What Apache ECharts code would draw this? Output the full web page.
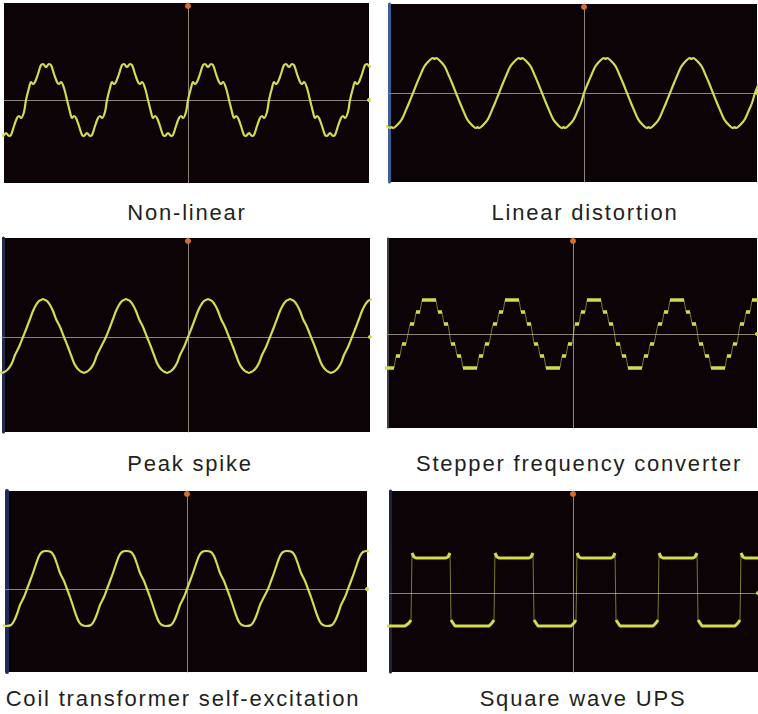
<!DOCTYPE html>
<html><head><meta charset="utf-8">
<script src="https://cdn.jsdelivr.net/npm/echarts/dist/echarts.min.js"></script>
<style>html,body{margin:0;padding:0;background:#fff}#c{width:758px;height:714px}#c svg text{letter-spacing:1.8px}</style>
</head><body><div id="c"></div>
<script>
// ---- DATA (x: px offset from trigger line, y: px offset from ground line) ----
const titles = ['Non-linear','Linear distortion','Peak spike','Stepper frequency converter','Coil transformer self-excitation','Square wave UPS'];

const wave1 = [
[-187,-35],[-185,-36],[-182,-33],[-179,-36],[-177,-35],[-174,-26],[-171,-18],[-169,-16],[-167,-18],[-164,-12],
[-162,0],[-159,12],[-157,18],[-155,16],[-153,18],[-150,26],[-147,35],[-145,36],[-142,33],[-139,36],[-137,35],[-134,26],[-131,18],[-129,16],[-127,18],[-124,12],[-121,0],[-118,-12],[-116,-18],[-114,-16],[-112,-18],[-109,-26],[-106,-35],[-104,-36],[-101,-33],[-98,-36],[-96,-35],[-93,-26],[-90,-18],[-88,-16],[-86,-18],[-83,-12],
[-81,0],[-78,12],[-76,18],[-74,16],[-72,18],[-69,26],[-66,35],[-64,36],[-61,33],[-58,36],[-56,35],[-53,26],[-50,18],[-48,16],[-46,18],[-43,12],[-40,0],[-37,-12],[-35,-18],[-33,-16],[-31,-18],[-28,-26],[-25,-35],[-23,-36],[-20,-33],[-17,-36],[-15,-35],[-12,-26],[-9,-18],[-7,-16],[-5,-18],[-2,-12],
[0,0],[3,12],[5,18],[7,16],[9,18],[12,26],[15,35],[17,36],[20,33],[23,36],[25,35],[28,26],[31,18],[33,16],[35,18],[38,12],[41,0],[44,-12],[46,-18],[48,-16],[50,-18],[53,-26],[56,-35],[58,-36],[61,-33],[64,-36],[66,-35],[69,-26],[72,-18],[74,-16],[76,-18],[79,-12],
[81,0],[84,12],[86,18],[88,16],[90,18],[93,26],[96,35],[98,36],[101,33],[104,36],[106,35],[109,26],[112,18],[114,16],[116,18],[119,12],[122,0],[125,-12],[127,-18],[129,-16],[131,-18],[134,-26],[137,-35],[139,-36],[142,-33],[145,-36],[147,-35],[150,-26],[153,-18],[155,-16],[157,-18],[160,-12],
[162,0],[165,12],[167,18],[169,16],[171,18],[174,26],[177,35],[179,36],[182,33],[185,36]
];

const wave2 = [
[-200,-32],[-196,-34],[-194,-35],[-192.5,-34],[-191,-35],[-189,-34],[-185,-30],[-182,-26],[-178,-17],[-175,-10],
[-171,0],[-167,10],[-164,17],[-160,26],[-157,30],[-153,34],[-151,35],[-149.5,34],[-148,35],[-146,34],[-142,30],[-139,26],[-135,17],[-132,10],[-128,0],[-124,-10],[-121,-17],[-117,-26],[-114,-30],[-110,-34],[-108,-35],[-106.5,-34],[-105,-35],[-103,-34],[-99,-30],[-96,-26],[-92,-17],[-89,-10],
[-85,0],[-81,10],[-78,17],[-74,26],[-71,30],[-67,34],[-65,35],[-63.5,34],[-62,35],[-60,34],[-56,30],[-53,26],[-49,17],[-46,10],[-42,0],[-38,-10],[-35,-17],[-31,-26],[-28,-30],[-24,-34],[-22,-35],[-20.5,-34],[-19,-35],[-17,-34],[-13,-30],[-10,-26],[-6,-17],[-3,-10],
[0,0],[4,10],[7,17],[11,26],[14,30],[18,34],[20,35],[21.5,34],[23,35],[25,34],[29,30],[32,26],[36,17],[39,10],[43,0],[47,-10],[50,-17],[54,-26],[57,-30],[61,-34],[63,-35],[64.5,-34],[66,-35],[68,-34],[72,-30],[75,-26],[79,-17],[82,-10],
[86,0],[90,10],[93,17],[97,26],[100,30],[104,34],[106,35],[107.5,34],[109,35],[111,34],[115,30],[118,26],[122,17],[125,10],[129,0],[133,-10],[136,-17],[140,-26],[143,-30],[147,-34],[149,-35],[150.5,-34],[152,-35],[154,-34],[158,-30],[161,-26],[165,-17],[168,-10],
[171,0],[175,10],[178,17]
];

const wave3 = [
[-190,-34],[-188,-35],[-186,-36],[-184,-35],[-182,-34],[-179,-31],[-176,-26],[-173,-18],[-169,-10],
[-165,0],[-161,10],[-158,18],[-155,26],[-152,32],[-149,36],[-147,37],[-145,38],[-143,37],[-141,36],[-138,32],[-135,26],[-132,18],[-128,10],[-124,0],[-120,-10],[-117,-18],[-114,-26],[-111,-31],[-108,-34],[-106,-35],[-104,-36],[-102,-35],[-100,-34],[-97,-31],[-94,-26],[-91,-18],[-87,-10],
[-82,0],[-78,10],[-75,18],[-72,26],[-69,32],[-66,36],[-64,37],[-62,38],[-60,37],[-58,36],[-55,32],[-52,26],[-49,18],[-45,10],[-41,0],[-37,-10],[-34,-18],[-31,-26],[-28,-31],[-25,-34],[-23,-35],[-21,-36],[-19,-35],[-17,-34],[-14,-31],[-11,-26],[-8,-18],[-4,-10],
[0,0],[4,10],[7,18],[10,26],[13,32],[16,36],[18,37],[20,38],[22,37],[24,36],[27,32],[30,26],[33,18],[37,10],[41,0],[45,-10],[48,-18],[51,-26],[54,-31],[57,-34],[59,-35],[61,-36],[63,-35],[65,-34],[68,-31],[71,-26],[74,-18],[78,-10],
[82,0],[86,10],[89,18],[92,26],[95,32],[98,36],[100,37],[102,38],[104,37],[106,36],[109,32],[112,26],[115,18],[119,10],[123,0],[127,-10],[130,-18],[133,-26],[136,-31],[139,-34],[141,-35],[143,-36],[145,-35],[147,-34],[150,-31],[153,-26],[156,-18],[160,-10],
[164,0],[168,10],[171,18],[174,26],[177,32],[180,36],[182,37],[184,38]
];

// stepper plateaus: [xStart, xEnd, level]
const steps4 = [
[-195,-179,-34],[-177,-173,-22],[-171,-167,-10],
[-163,-159,10],[-157,-153,22],[-151,-137,34],[-135,-131,22],[-129,-125,10],[-122,-118,-10],[-116,-112,-22],[-110,-96,-34],[-94,-90,-22],[-88,-84,-10],
[-80,-76,10],[-74,-70,22],[-68,-54,34],[-52,-48,22],[-46,-42,10],[-39,-35,-10],[-33,-29,-22],[-27,-13,-34],[-11,-7,-22],[-5,-1,-10],
[2,6,10],[8,12,22],[14,28,34],[30,34,22],[36,40,10],[43,47,-10],[49,53,-22],[55,69,-34],[71,75,-22],[77,81,-10],
[85,89,10],[91,95,22],[97,111,34],[113,117,22],[119,123,10],[126,130,-10],[132,136,-22],[138,152,-34],[154,158,-22],[160,164,-10],
[167,171,10],[173,177,22],[179,193,34]
];

const wave5 = [
[-185,-36],[-181,-37],[-176,-36],[-173,-32],[-170,-25],[-167,-16],[-163,-8],
[-160,0],[-157,8],[-154,16],[-151,25],[-148,33],[-145,37],[-141,38],[-136,37],[-133,33],[-130,25],[-127,16],[-123,8],[-120,0],[-117,-8],[-114,-17],[-111,-26],[-108,-33],[-105,-36],[-101,-37],[-96,-36],[-93,-32],[-90,-25],[-87,-16],[-83,-8],
[-80,0],[-77,8],[-74,16],[-71,25],[-68,33],[-65,37],[-61,38],[-56,37],[-53,33],[-50,25],[-47,16],[-43,8],[-40,0],[-37,-8],[-34,-17],[-31,-26],[-28,-33],[-25,-36],[-21,-37],[-16,-36],[-13,-32],[-10,-25],[-7,-16],[-3,-8],
[0,0],[3,8],[6,16],[9,25],[12,33],[15,37],[19,38],[24,37],[27,33],[30,25],[33,16],[37,8],[40,0],[43,-8],[46,-17],[49,-26],[52,-33],[55,-36],[59,-37],[64,-36],[67,-32],[70,-25],[73,-16],[77,-8],
[81,0],[84,8],[87,16],[90,25],[93,33],[96,37],[100,38],[105,37],[108,33],[111,25],[114,16],[118,8],[121,0],[124,-8],[127,-17],[130,-26],[133,-33],[136,-36],[140,-37],[145,-36],[148,-32],[151,-25],[154,-16],[158,-8],
[161,0],[164,8],[167,16],[170,25],[173,33],[176,37],[180,38],[185,37]
];

const wave6 = [
[-186,-33],[-168,-33],[-164,-30],[-162,-27],[-161,40],[-159,36],[-157,35],[-127,35],[-125,36],[-123,40],
[-122,-27],[-120,-30],[-118,-33],[-84,-33],[-81,-30],[-79,-27],[-78,40],[-76,36],[-74,35],[-44,35],[-42,36],[-40,40],
[-39,-27],[-37,-30],[-35,-33],[-2,-33],[1,-30],[3,-27],[4,40],[6,36],[8,35],[38,35],[40,36],[42,40],
[43,-27],[45,-30],[47,-33],[80,-33],[83,-30],[85,-27],[86,40],[88,36],[90,35],[120,35],[122,36],[124,40],
[125,-27],[127,-30],[129,-33],[162,-33],[165,-30],[167,-27],[168,40],[170,36],[172,35],[190,35]
];

// ---- LAYOUT / STYLE ----
const panels = [
  {g:{left:4,top:3,width:365,height:180},   x:[-184,181], y:[-83,97], strip:null},
  {g:{left:388,top:4,width:369,height:178}, x:[-196,173], y:[-89,89], strip:['#3d5c9c',3]},
  {g:{left:2,top:238,width:368,height:194}, x:[-186,182], y:[-95,99], strip:['#242b48',3]},
  {g:{left:387,top:238,width:370,height:190},x:[-186,184], y:[-94,96], strip:['#55555c',1.5]},
  {g:{left:5,top:491,width:362,height:181}, x:[-182,180], y:[-83,98], strip:['#1f2c5c',4]},
  {g:{left:389,top:491,width:369,height:181},x:[-184,185], y:[-79,102], strip:['#1e2440',3]}
];
const labelPos = [[187,212],[585,212],[190,463],[579,463],[183,698],[583,698]];
const WAVE = '#d3dc50', CROSS = '#8a847c', BG = '#0b0305';

function stepLine(pl){const o=[];pl.forEach(p=>{o.push([p[0],p[2]],[p[1],p[2]]);});return o;}
function stepDash(pl){const o=[];pl.forEach(p=>{o.push([p[0],p[2]],[p[1],p[2]],[p[1],null]);});return o;}
function splitJumps(d){const o=[];d.forEach((p,i)=>{if(i>0&&Math.abs(p[1]-d[i-1][1])>20)o.push([p[0],null]);o.push(p);});return o;}

const grids=[],xAxes=[],yAxes=[],series=[];
panels.forEach((p,i)=>{
  grids.push(Object.assign({show:true,backgroundColor:BG,borderWidth:0,containLabel:false},p.g));
  xAxes.push({type:'value',gridIndex:i,min:p.x[0],max:p.x[1],axisLine:{show:true,onZero:true,onZeroAxisIndex:yAxes.length,lineStyle:{color:CROSS,width:1}},axisTick:{show:false},axisLabel:{show:false},splitLine:{show:false}});
  const yi=yAxes.length;
  yAxes.push({type:'value',gridIndex:i,min:p.y[0],max:p.y[1],axisLine:{show:true,onZero:true,lineStyle:{color:CROSS,width:1}},axisTick:{show:false},axisLabel:{show:false},splitLine:{show:false}});
  if(p.strip){
    yAxes.push({type:'value',gridIndex:i,min:p.y[0],max:p.y[1],position:'left',offset:-p.strip[1]/2,axisLine:{show:true,onZero:false,lineStyle:{color:p.strip[0],width:p.strip[1]}},axisTick:{show:false},axisLabel:{show:false},splitLine:{show:false}});
  }
  const mp={silent:true,label:{show:false},animation:false,data:[
    {coord:[0,p.y[1]],symbol:'circle',symbolSize:6,symbolOffset:[0,3],itemStyle:{color:'#d4702c'}},
    {coord:[p.x[1],0],symbol:'circle',symbolSize:4,itemStyle:{color:WAVE}}
  ]};
  const base={type:'line',xAxisIndex:i,yAxisIndex:yi,showSymbol:false,silent:true,animation:false,clip:true};
  if(i===0) series.push(Object.assign({},base,{data:wave1,smooth:0.35,lineStyle:{color:WAVE,width:2.2},markPoint:mp}));
  if(i===1) series.push(Object.assign({},base,{data:wave2,smooth:0.4,lineStyle:{color:WAVE,width:2.2},markPoint:mp}));
  if(i===2) series.push(Object.assign({},base,{data:wave3,smooth:0.4,lineStyle:{color:WAVE,width:2.2},markPoint:mp}));
  if(i===3){
    series.push(Object.assign({},base,{data:stepLine(steps4),lineStyle:{color:WAVE,width:1,opacity:0.55},markPoint:mp}));
    series.push(Object.assign({},base,{data:stepDash(steps4),connectNulls:false,lineStyle:{color:WAVE,width:3.5}}));
  }
  if(i===4) series.push(Object.assign({},base,{data:wave5,smooth:0.25,lineStyle:{color:WAVE,width:2.2},markPoint:mp}));
  if(i===5){
    series.push(Object.assign({},base,{data:wave6,lineStyle:{color:WAVE,width:1,opacity:0.55},markPoint:mp}));
    series.push(Object.assign({},base,{data:splitJumps(wave6),connectNulls:false,lineStyle:{color:WAVE,width:3}}));
  }
});

const graphic = titles.map((t,i)=>({type:'text',x:labelPos[i][0],y:labelPos[i][1],silent:true,
  style:{text:t,fill:'#231f20',font:'22px "Liberation Sans", Arial, sans-serif',fontSize:22,fontFamily:'Liberation Sans',
    textAlign:'center',textVerticalAlign:'middle',align:'center',verticalAlign:'middle'}}));

const chart = echarts.init(document.getElementById('c'),null,{renderer:'svg'});
chart.setOption({animation:false,backgroundColor:'#ffffff',grid:grids,xAxis:xAxes,yAxis:yAxes,series:series,graphic:graphic});
</script></body></html>
